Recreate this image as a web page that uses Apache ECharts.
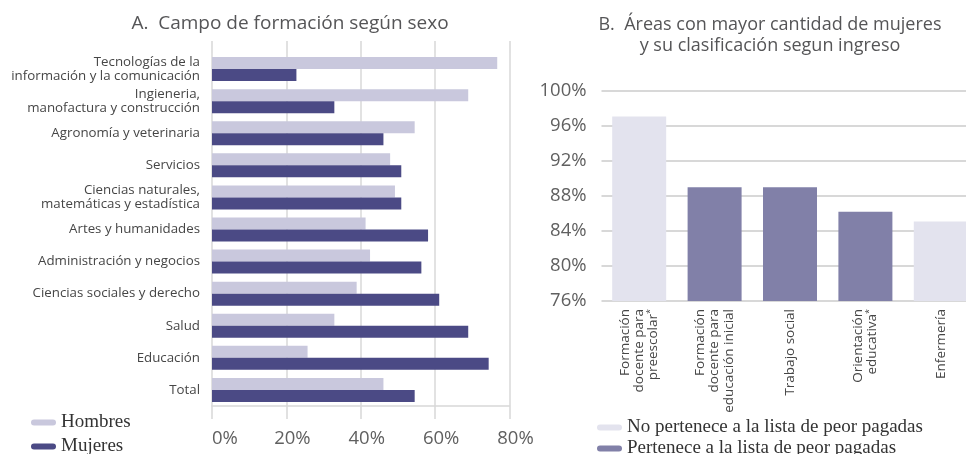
<!DOCTYPE html>
<html>
<head>
<meta charset="utf-8">
<script src="https://cdn.jsdelivr.net/npm/echarts@6/dist/echarts.min.js"></script>
<style>
  html, body { margin: 0; padding: 0; background: #fff; overflow: hidden; }
  /* un poco mas ancho que la ventana: la ultima barra de B queda cortada como en el original */
  #chart { width: 990px; height: 454px; }
</style>
</head>
<body>
<div id="chart"></div>
<script>
// A. campo de formación según sexo (%)
var fieldCategories = [
    'Tecnologías de la\ninformación y la comunicación',
    'Ingieneria,\nmanofactura y construcción',
    'Agronomía y veterinaria',
    'Servicios',
    'Ciencias naturales,\nmatemáticas y estadística',
    'Artes y humanidades',
    'Administración y negocios',
    'Ciencias sociales y derecho',
    'Salud',
    'Educación',
    'Total'
];
var menShare = [76.7, 68.9, 54.5, 47.9, 49.2, 41.3, 42.5, 38.9, 32.9, 25.7, 46.1];
var womenShare = [22.7, 32.9, 46.1, 50.9, 50.9, 58.1, 56.3, 61.1, 68.9, 74.4, 54.5];

// B. áreas con mayor cantidad de mujeres (%)
var areaCategories = [
    'Formación\ndocente para\npreescolar*',
    'Formación\ndocente para\neducación inicial',
    'Trabajo social',
    'Orientación\neducativa*',
    'Enfermería'
];
var areaShare = [97.1, 89.0, 89.0, 86.2, 85.1];
var inLowestPaid = [false, true, true, true, false];

var legendA = ['Hombres', 'Mujeres'];
var legendB = ['No pertenece a la lista de peor pagadas', 'Pertenece a la lista de peor pagadas'];

var sans = 'Open Sans';
var serif = 'Liberation Serif';
var textColor = '#464646';
var numColor = '#606060';
var gridColor = '#d8d8d8';

// capsula para los iconos de la leyenda
var lineIcon = 'path://M3,0 L22,0 A3,3 0 0 1 22,6 L3,6 A3,3 0 0 1 3,0 Z';

var notListed = areaShare.map(function(v, i) { return inLowestPaid[i] ? '-' : v; });
var listed = areaShare.map(function(v, i) { return inLowestPaid[i] ? v : '-'; });

var chart = echarts.init(document.getElementById('chart'));

chart.setOption({
    backgroundColor: '#fff',
    animation: false,
    title: [{
        text: 'A.  Campo de formación según sexo',
        left: 285, top: 9, textAlign: 'center',
        textStyle: { fontFamily: sans, fontSize: 19, fontWeight: 500, color: '#555557' }
    }, {
        text: 'B.  Áreas con mayor cantidad de mujeres\ny su clasificación segun ingreso',
        left: 765, top: 9, textAlign: 'center',
        textStyle: { fontFamily: sans, fontSize: 18, fontWeight: 500, color: '#555557', lineHeight: 21 }
    }],
    legend: [{
        data: legendA,
        orient: 'vertical',
        left: 26, top: 408, height: 80,
        itemWidth: 25, itemHeight: 6, itemGap: 5,
        icon: lineIcon,
        textStyle: { fontFamily: serif, fontSize: 19, color: '#333' }
    }, {
        data: legendB,
        orient: 'vertical',
        left: 592, top: 413, height: 80,
        itemWidth: 25, itemHeight: 6, itemGap: 2,
        icon: lineIcon,
        textStyle: { fontFamily: serif, fontSize: 19, color: '#333' }
    }],
    grid: [
        { left: 212, width: 297.5, top: 53, height: 353 },
        { left: 601.5, width: 377, top: 91, height: 210 }
    ],
    xAxis: [{
        gridIndex: 0,
        type: 'value', min: 0, max: 80, interval: 20,
        axisLine: { show: true, lineStyle: { color: gridColor, width: 1.5 } },
        axisTick: { show: true, length: 13, lineStyle: { color: gridColor, width: 1.5 } },
        axisLabel: {
            margin: 23, alignMinLabel: 'left',
            formatter: function(v) { return v === 0 ? '{first|0%}' : '{tick|' + v + '%}'; },
            rich: {
                first: { fontFamily: sans, fontSize: 18.5, fontWeight: 500, color: numColor },
                tick: { fontFamily: sans, fontSize: 18.5, fontWeight: 500, color: numColor, padding: [0, 0, 0, 12] }
            }
        },
        splitLine: { show: true, lineStyle: { color: gridColor, width: 1.5 } }
    }, {
        // solo para prolongar las lineas verticales hacia arriba
        gridIndex: 0, position: 'top',
        type: 'value', min: 0, max: 80, interval: 20,
        axisLine: { show: false },
        axisTick: { show: true, length: 12, lineStyle: { color: gridColor, width: 1.5 } },
        axisLabel: { show: false },
        splitLine: { show: false }
    }, {
        gridIndex: 1,
        type: 'category', data: areaCategories,
        axisLine: { show: false },
        axisTick: { show: false },
        axisLabel: {
            rotate: 90, margin: 8, interval: 0,
            fontFamily: sans, fontSize: 13.5, fontWeight: 500, lineHeight: 14.3, color: textColor,
            // asterisco como superindice
            formatter: function(v) { return v.replace('*', '{sup|*}'); },
            rich: {
                sup: { fontFamily: sans, fontSize: 9, color: textColor, verticalAlign: 'top', lineHeight: 14.3 }
            }
        }
    }],
    yAxis: [{
        gridIndex: 0,
        type: 'category', data: fieldCategories, inverse: true,
        axisLine: { show: false },
        axisTick: { show: false },
        axisLabel: {
            margin: 12, interval: 0,
            fontFamily: sans, fontSize: 13.3, fontWeight: 500, lineHeight: 13.5, color: textColor
        }
    }, {
        gridIndex: 1,
        type: 'value', min: 76, max: 100, interval: 4,
        axisLine: { show: false },
        axisTick: { show: false },
        axisLabel: {
            formatter: '{value}%', margin: 15,
            fontFamily: sans, fontSize: 18.5, fontWeight: 500, color: numColor
        },
        splitLine: { show: true, lineStyle: { color: gridColor, width: 2 } }
    }],
    series: [{
        name: 'Hombres', type: 'bar',
        xAxisIndex: 0, yAxisIndex: 0,
        data: menShare,
        barWidth: 12, barGap: '0%',
        itemStyle: { color: '#c9c8dd' }
    }, {
        name: 'Mujeres', type: 'bar',
        xAxisIndex: 0, yAxisIndex: 0,
        data: womenShare,
        barWidth: 12, barGap: '0%',
        itemStyle: { color: '#4b4a85' }
    }, {
        name: legendB[0], type: 'bar',
        xAxisIndex: 2, yAxisIndex: 1,
        data: notListed,
        barWidth: 54, barGap: '-100%',
        itemStyle: { color: '#e3e3ee' }
    }, {
        name: legendB[1], type: 'bar',
        xAxisIndex: 2, yAxisIndex: 1,
        data: listed,
        barWidth: 54, barGap: '-100%',
        itemStyle: { color: '#8180a8' }
    }]
});
</script>
</body>
</html>
